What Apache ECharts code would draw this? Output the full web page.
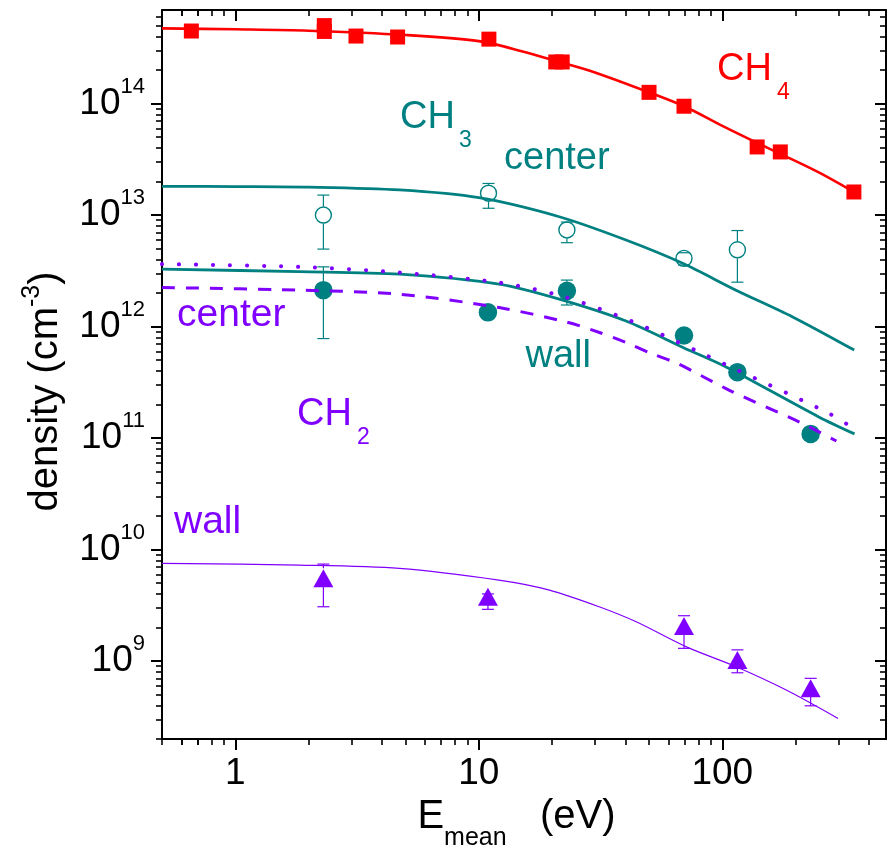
<!DOCTYPE html>
<html>
<head>
<meta charset="utf-8">
<script src="https://cdn.jsdelivr.net/npm/echarts@6/dist/echarts.min.js"></script>
<style>
  html, body { margin: 0; padding: 0; background: #fff; }
  #chart { width: 887px; height: 848px; }
</style>
</head>
<body>
<div id="chart"></div>
<script>
// ---------------- data ----------------
// CH4 measured (red squares)
const ch4X = [0.66, 2.32, 2.32, 3.13, 4.64, 11.0, 20.7, 22.0, 50.0, 69.6, 139, 173, 347];
const ch4Y = [4.47e14, 5.0e14, 4.43e14, 4.03e14, 3.95e14, 3.78e14, 2.36e14, 2.36e14, 1.26e14, 9.46e13, 4.08e13, 3.68e13, 1.61e13];
// CH4 model
const ch4FitX = [0.5, 1, 2, 5, 10, 15, 21.4, 30, 50, 70, 100, 140, 175, 250, 347];
const ch4FitY = [4.72e14, 4.63e14, 4.5e14, 4.12e14, 3.63e14, 2.95e14, 2.36e14, 1.9e14, 1.26e14, 9.4e13, 6.3e13, 4.4e13, 3.5e13, 2.4e13, 1.61e13];

// CH3 center (open circles) with error bars
const ch3cX  = [2.30, 10.96, 23.0, 69.6, 115.3];
const ch3cY  = [1.0e13, 1.57e13, 7.35e12, 4.09e12, 4.88e12];
const ch3cLo = [4.95e12, 1.15e13, 5.65e12, 3.56e12, 2.50e12];
const ch3cHi = [1.51e13, 1.92e13, 8.65e12, 4.59e12, 7.26e12];
// CH3 center model
const ch3cFitX = [0.5, 1, 2, 4.72, 10, 21.4, 40.2, 68.7, 113.8, 194.4, 348];
const ch3cFitY = [1.81e13, 1.80e13, 1.78e13, 1.68e13, 1.43e13, 9.65e12, 5.97e12, 3.69e12, 2.12e12, 1.22e12, 6.15e11];

// CH3 wall (filled circles) with error bars
const ch3wX  = [2.30, 10.9, 23.0, 69.6, 115.3, 230.5];
const ch3wY  = [2.12e12, 1.34e12, 2.09e12, 8.3e11, 3.9e11, 1.09e11];
const ch3wLo = [7.8e11, 1.34e12, 1.56e12, 8.3e11, 3.9e11, 9.5e10];
const ch3wHi = [3.43e12, 1.34e12, 2.61e12, 8.3e11, 3.9e11, 1.2e11];
// CH3 wall model
const ch3wFitX = [0.5, 1.83, 4.72, 12.1, 21.4, 40.2, 70, 103.6, 250, 349];
const ch3wFitY = [3.27e12, 3.11e12, 2.95e12, 2.4e12, 1.76e12, 1.12e12, 6.4e11, 4.34e11, 1.54e11, 1.09e11];

// CH2 center models (dotted, dashed)
const ch2DotX = [0.5, 1.83, 4.72, 12.1, 22.2, 42.2, 80.5, 110.6, 267.6, 344];
const ch2DotY = [3.63e12, 3.43e12, 3.05e12, 2.48e12, 1.86e12, 1.12e12, 5.9e11, 4.25e11, 1.71e11, 1.23e11];
const ch2DashX = [0.5, 1.83, 4.72, 12.1, 22.8, 31.5, 40.2, 51.4, 65.6, 107, 207.6, 294];
const ch2DashY = [2.24e12, 2.12e12, 1.95e12, 1.48e12, 1.1e12, 8.8e11, 7.2e11, 5.7e11, 4.65e11, 2.68e11, 1.39e11, 9.4e10];

// CH2 wall (triangles) with error bars
const ch2wX  = [2.30, 10.9, 69.6, 115.3, 230.5];
const ch2wY  = [5.52e9, 3.78e9, 2.06e9, 1.02e9, 5.69e8];
const ch2wLo = [3.07e9, 2.91e9, 1.30e9, 7.85e8, 3.97e8];
const ch2wHi = [7.41e9, 4.0e9, 2.55e9, 1.26e9, 7.0e8];
// CH2 wall model
const ch2wFitX = [0.5, 1.83, 4.72, 12.1, 19.5, 31.2, 44.3, 71.2, 114, 183, 298.6];
const ch2wFitY = [7.52e9, 7.26e9, 6.78e9, 5.32e9, 4.33e9, 3.07e9, 2.25e9, 1.34e9, 8.9e8, 5.5e8, 3.06e8];

// axes / ticks
const xRange = [0.5, 470];
const yRange = [2e8, 6.9e14];
const xMajorTicks = [1, 10, 100];
const yMajorTicks = [1e9, 1e10, 1e11, 1e12, 1e13, 1e14];
const minorMultipliers = [2, 3, 4, 5, 6, 7, 8, 9];

// ---------------- helpers ----------------
const FONT = '"Liberation Sans", Arial, Helvetica, sans-serif';
const RED = '#FF0000', TEAL = '#008080', VIOLET = '#8000FF';

function pairs(xs, ys) { return xs.map((x, i) => [x, ys[i]]); }
function quads(xs, ys, lo, hi) { return xs.map((x, i) => [x, ys[i], lo[i], hi[i]]); }
function minorTicks(range) {
  const out = [];
  const e0 = Math.floor(Math.log10(range[0])), e1 = Math.ceil(Math.log10(range[1]));
  for (let e = e0; e <= e1; e++) {
    for (const m of minorMultipliers) {
      const v = m * Math.pow(10, e);
      if (v >= range[0] && v <= range[1]) out.push(v);
    }
  }
  if (range[0] < 1) { [0.6, 0.7, 0.8, 0.9].forEach(v => { if (v >= range[0] && out.indexOf(v) < 0) out.push(v); }); }
  return out.sort((a, b) => a - b);
}
const xMinor = minorTicks(xRange);
const yMinor = minorTicks(yRange);

function errRender(color, gapTop, gapBot, capW) {
  return function (params, api) {
    const x = api.value(0), y = api.value(1), lo = api.value(2), hi = api.value(3);
    const c = api.coord([x, y]);
    const t = api.coord([x, hi]);
    const b = api.coord([x, lo]);
    const st = { stroke: color, lineWidth: 1.2, fill: null };
    const ch = [];
    if (Math.abs(t[1] - c[1]) < 0.5 && Math.abs(b[1] - c[1]) < 0.5) return { type: 'group', children: [] };
    if (t[1] < c[1] - gapTop) ch.push({ type: 'line', shape: { x1: c[0], y1: t[1], x2: c[0], y2: c[1] - gapTop }, style: st });
    if (b[1] > c[1] + gapBot) ch.push({ type: 'line', shape: { x1: c[0], y1: c[1] + gapBot, x2: c[0], y2: b[1] }, style: st });
    ch.push({ type: 'line', shape: { x1: c[0] - capW / 2, y1: t[1], x2: c[0] + capW / 2, y2: t[1] }, style: st });
    ch.push({ type: 'line', shape: { x1: c[0] - capW / 2, y1: b[1], x2: c[0] + capW / 2, y2: b[1] }, style: st });
    return { type: 'group', children: ch };
  };
}

function xAxisDef(opts) {
  return Object.assign({
    type: 'log', logBase: 10, min: xRange[0], max: xRange[1], gridIndex: 0,
    splitLine: { show: false }, minorTick: { show: false }, minorSplitLine: { show: false },
    axisLine: { show: false }, axisLabel: { show: false },
    axisTick: { show: false }
  }, opts);
}
function yAxisDef(opts) {
  return Object.assign({
    type: 'log', logBase: 10, min: yRange[0], max: yRange[1], gridIndex: 0,
    splitLine: { show: false }, minorTick: { show: false }, minorSplitLine: { show: false },
    axisLine: { show: false }, axisLabel: { show: false },
    axisTick: { show: false }
  }, opts);
}
const AXLINE = { show: true, onZero: false, lineStyle: { color: '#000', width: 2 } };
const SMOOTH = 0.3;

const option = {
  animation: false,
  backgroundColor: '#ffffff',
  textStyle: { fontFamily: FONT },
  grid: { left: 162, top: 10, width: 724, height: 729, containLabel: false, outerBoundsMode: 'none' },
  xAxis: [
    xAxisDef({
      position: 'bottom',
      axisLine: AXLINE,
      axisTick: { show: true, inside: false, length: 11, customValues: xMajorTicks, lineStyle: { color: '#000', width: 2 } },
      axisLabel: {
        show: true, customValues: xMajorTicks, margin: 16, color: '#000', fontSize: 37, fontFamily: FONT,
        formatter: v => String(Math.round(v))
      },
      name: '{n|E}{s|mean}{n|   (eV)}',
      nameLocation: 'middle', nameGap: 40,
      nameTextStyle: {
        color: '#000', fontFamily: FONT, padding: [0, 15, 0, 0],
        rich: {
          n: { fontSize: 40, lineHeight: 68, fontFamily: FONT, color: '#000' },
          s: { fontSize: 25, verticalAlign: 'bottom', fontFamily: FONT, color: '#000' }
        }
      }
    }),
    xAxisDef({
      position: 'bottom',
      axisTick: { show: true, inside: false, length: 6, customValues: xMinor, lineStyle: { color: '#000', width: 1.6 } }
    }),
    xAxisDef({
      position: 'top',
      axisLine: AXLINE,
      axisTick: { show: true, inside: true, length: 11, customValues: xMajorTicks, lineStyle: { color: '#000', width: 2 } }
    }),
    xAxisDef({
      position: 'top',
      axisTick: { show: true, inside: true, length: 6, customValues: xMinor, lineStyle: { color: '#000', width: 1.6 } }
    })
  ],
  yAxis: [
    yAxisDef({
      position: 'left',
      axisLine: AXLINE,
      axisTick: { show: true, inside: false, length: 11, customValues: yMajorTicks, lineStyle: { color: '#000', width: 2 } },
      axisLabel: {
        show: true, customValues: yMajorTicks, margin: 17, color: '#000', fontFamily: FONT,
        formatter: v => '{b|10}{p|' + Math.round(Math.log10(v)) + '}',
        rich: {
          b: { fontSize: 37, lineHeight: 56, fontFamily: FONT, color: '#000' },
          p: { fontSize: 22, verticalAlign: 'top', fontFamily: FONT, color: '#000' }
        }
      },
      name: '{n|density (cm}{p|-3}{n|)}',
      nameLocation: 'middle', nameGap: 90,
      nameTextStyle: {
        color: '#000', fontFamily: FONT, padding: [0, 34, 0, 0],
        rich: {
          n: { fontSize: 40, lineHeight: 52, fontFamily: FONT, color: '#000' },
          p: { fontSize: 25, verticalAlign: 'top', fontFamily: FONT, color: '#000' }
        }
      }
    }),
    yAxisDef({
      position: 'left',
      axisTick: { show: true, inside: false, length: 6, customValues: yMinor, lineStyle: { color: '#000', width: 1.6 } }
    }),
    yAxisDef({
      position: 'right',
      axisLine: AXLINE,
      axisTick: { show: true, inside: true, length: 11, customValues: yMajorTicks, lineStyle: { color: '#000', width: 2 } }
    }),
    yAxisDef({
      position: 'right',
      axisTick: { show: true, inside: true, length: 6, customValues: yMinor, lineStyle: { color: '#000', width: 1.6 } }
    })
  ],
  series: [
    // markers
    { name: 'CH4', type: 'scatter', data: pairs(ch4X, ch4Y), symbol: 'rect', symbolSize: 15,
      itemStyle: { color: RED, opacity: 1 }, z: 2 },
    { name: 'CH3 center', type: 'scatter', data: pairs(ch3cX, ch3cY), symbol: 'circle', symbolSize: 16,
      itemStyle: { color: '#ffffff', borderColor: TEAL, borderWidth: 1.4, opacity: 1 }, z: 2 },
    { name: 'CH3 wall', type: 'scatter', data: pairs(ch3wX, ch3wY), symbol: 'circle', symbolSize: 18.5,
      itemStyle: { color: TEAL, opacity: 1 }, z: 2 },
    { name: 'CH2 wall', type: 'scatter', data: pairs(ch2wX, ch2wY), symbol: 'triangle', symbolSize: [20, 18],
      itemStyle: { color: VIOLET, opacity: 1 }, z: 2 },
    // error bars
    { type: 'custom', data: quads(ch3cX, ch3cY, ch3cLo, ch3cHi), encode: { x: 0, y: 1 },
      renderItem: errRender(TEAL, 8.5, 8.5, 12), z: 3, silent: true },
    { type: 'custom', data: quads(ch3wX, ch3wY, ch3wLo, ch3wHi), encode: { x: 0, y: 1 },
      renderItem: errRender(TEAL, 9, 9, 12), z: 3, silent: true },
    { type: 'custom', data: quads(ch2wX, ch2wY, ch2wLo, ch2wHi), encode: { x: 0, y: 1 },
      renderItem: errRender(VIOLET, 10, 8, 12), z: 3, silent: true },
    // model curves
    { type: 'line', data: pairs(ch4FitX, ch4FitY), showSymbol: false, smooth: SMOOTH, z: 4,
      lineStyle: { color: RED, width: 2.6 } },
    { type: 'line', data: pairs(ch3cFitX, ch3cFitY), showSymbol: false, smooth: SMOOTH, z: 4,
      lineStyle: { color: TEAL, width: 2.8 } },
    { type: 'line', data: pairs(ch3wFitX, ch3wFitY), showSymbol: false, smooth: SMOOTH, z: 4,
      lineStyle: { color: TEAL, width: 2.8 } },
    { type: 'line', data: pairs(ch2DotX, ch2DotY), showSymbol: false, smooth: SMOOTH, z: 5,
      lineStyle: { color: VIOLET, width: 4, type: [0.1, 16.9], cap: 'round' } },
    { type: 'line', data: pairs(ch2DashX, ch2DashY), showSymbol: false, smooth: SMOOTH, z: 5,
      lineStyle: { color: VIOLET, width: 3, type: [13, 11] } },
    { type: 'line', data: pairs(ch2wFitX, ch2wFitY), showSymbol: false, smooth: SMOOTH, z: 4,
      lineStyle: { color: VIOLET, width: 1.2 } }
  ],
  graphic: [
    txt('CH', 717, 70, 38, RED), txt('4', 777, 92.5, 23, RED),
    txt('CH', 400, 117.5, 38, TEAL), txt('3', 459, 140.5, 23, TEAL),
    txt('center', 504, 171.7 - 13.2, 38, TEAL),
    txt('wall', 525.5, 370 - 13.2, 38, TEAL),
    txt('center', 177, 328.3 - 13.2, 39, VIOLET),
    txt('CH', 297, 415, 38, VIOLET), txt('2', 357, 438, 23, VIOLET),
    txt('wall', 174, 535 - 13.2, 39, VIOLET)
  ]
};

function txt(text, x, y, size, color) {
  return {
    type: 'text', x: x, y: y, z: 100, silent: true,
    style: { text: text, fill: color, fontSize: size, fontFamily: FONT,
             align: 'left', verticalAlign: 'middle', textAlign: 'left', textVerticalAlign: 'middle' }
  };
}

const chart = echarts.init(document.getElementById('chart'), null, { renderer: 'canvas' });
chart.setOption(option);
</script>
</body>
</html>
